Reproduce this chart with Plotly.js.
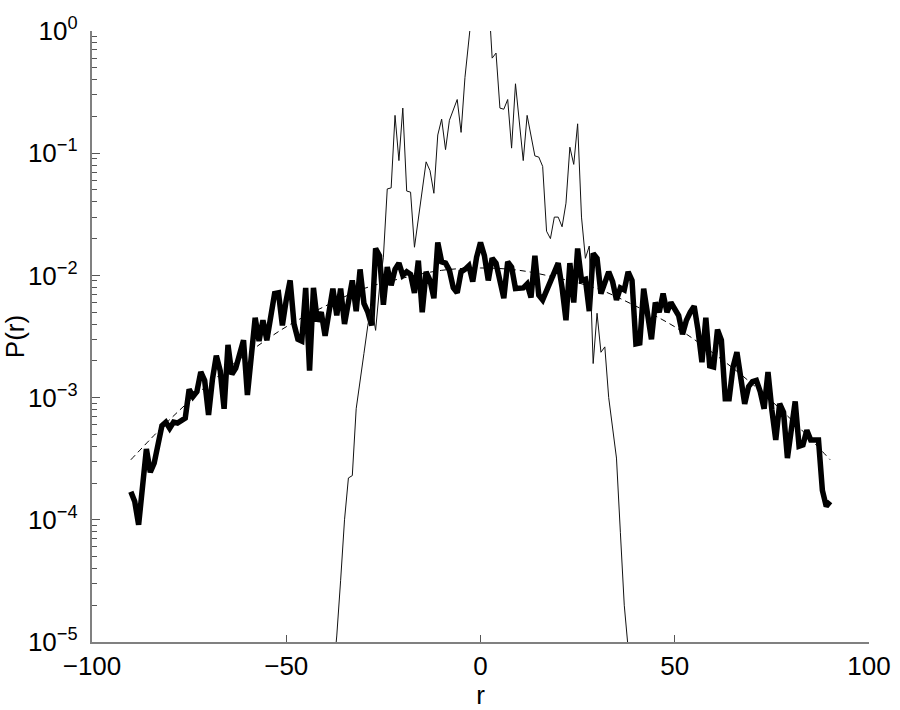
<!DOCTYPE html>
<html>
<head>
<meta charset="utf-8">
<script src="https://cdn.plot.ly/plotly-3.0.1.min.js"></script>
<style>
  html, body { margin: 0; padding: 0; background: #fff; }
  #chart { width: 900px; height: 710px; }
</style>
</head>
<body>
<div id="chart"></div>
<script>
// wide distribution (thick line)
const rWide = [-90, -89, -88, -86, -85, -84, -82, -81, -80, -79, -78, -77, -76, -75, -74, -73, -72, -71, -70,
    -69, -68, -67, -66, -65, -64, -63, -62, -61, -60, -59, -58, -57, -56, -55, -54, -53, -52, -51, -50,
    -49, -48, -47, -46, -45, -44, -43, -42, -41, -40, -39, -38, -37, -36, -35, -34, -33, -32, -31, -30,
    -29, -28, -27, -26, -25, -24, -23, -22, -21, -20, -19, -18, -17, -16, -15, -14, -13, -12, -11, -10,
    -9, -8, -7, -6, -5, -4, -3, -2, -1, 0, 1, 2, 3, 4, 5, 6, 7, 8, 9, 10,
    11, 12, 13, 14, 15, 16, 17, 18, 19, 20, 21, 22, 23, 24, 25, 26, 27, 28, 29, 30,
    31, 32, 33, 34, 35, 36, 37, 38, 39, 40, 41, 42, 43, 44, 45, 46, 47, 48, 49, 50,
    51, 52, 53, 54, 55, 56, 57, 58, 59, 60, 61, 62, 63, 64, 65, 66, 67, 68, 69, 70,
    71, 72, 73, 74, 75, 76, 77, 78, 79, 80, 81, 82, 83, 84, 85, 86, 87, 88, 89, 90];
const pWide = [1.7e-4, 1.41e-4, 9.1e-5, 3.8e-4, 2.45e-4, 2.9e-4, 5.9e-4, 6.3e-4, 5.6e-4, 6.3e-4, 6.2e-4, 6.6e-4, 6.8e-4, 1.17e-3, 1.02e-3, 1.12e-3, 1.62e-3, 1.38e-3, 7.2e-4,
    1.41e-3, 2.2e-3, 1.66e-3, 8.1e-4, 2.7e-3, 1.55e-3, 1.74e-3, 2.24e-3, 2.95e-3, 1.05e-3, 2.24e-3, 4.5e-3, 2.9e-3, 4.3e-3, 2.95e-3, 5.0e-3, 7.1e-3, 7.2e-3, 3.9e-3, 6.3e-3,
    9.1e-3, 4.0e-3, 3.0e-3, 2.9e-3, 7.9e-3, 1.66e-3, 7.9e-3, 4.2e-3, 5.0e-3, 3.2e-3, 5.0e-3, 7.8e-3, 4.7e-3, 7.8e-3, 4.0e-3, 6.0e-3, 9.1e-3, 5.1e-3, 1.12e-2, 5.9e-3,
    5.0e-3, 3.9e-3, 1.66e-2, 1.45e-2, 5.75e-3, 1.17e-2, 8.3e-3, 1.12e-2, 1.26e-2, 1.0e-2, 1.07e-2, 1.02e-2, 7.2e-3, 1.32e-2, 5.0e-3, 1.07e-2, 9.1e-3, 6.5e-3, 1.86e-2, 1.29e-2,
    1.26e-2, 1.1e-2, 7.9e-3, 7.2e-3, 1.07e-2, 1.12e-2, 1.2e-2, 8.9e-3, 1.41e-2, 1.86e-2, 1.45e-2, 9.1e-3, 1.38e-2, 1.26e-2, 8.9e-3, 6.5e-3, 1.29e-2, 1.17e-2, 7.8e-3, 7.8e-3,
    7.9e-3, 8.5e-3, 6.6e-3, 1.45e-2, 6.9e-3, 6.3e-3, 7.6e-3, 8.9e-3, 1.07e-2, 1.26e-2, 7.9e-3, 4.3e-3, 1.26e-2, 6.0e-3, 1.66e-2, 9.1e-3, 9.3e-3, 5.1e-3, 1.51e-2, 1.38e-2,
    7.1e-3, 8.9e-3, 1.07e-2, 8.9e-3, 6.3e-3, 7.9e-3, 7.6e-3, 1.07e-2, 9.1e-3, 2.75e-3, 2.8e-3, 7.8e-3, 4.5e-3, 3.0e-3, 6.0e-3, 5.0e-3, 7.1e-3, 5.0e-3, 6.0e-3, 5.2e-3,
    4.7e-3, 3.3e-3, 4.3e-3, 5.0e-3, 5.6e-3, 3.55e-3, 1.95e-3, 4.5e-3, 1.82e-3, 1.78e-3, 3.6e-3, 2.95e-3, 9.8e-4, 9.8e-4, 1.78e-3, 2.35e-3, 1.41e-3, 8.9e-4, 1.23e-3, 1.35e-3,
    1.38e-3, 1.12e-3, 8.1e-4, 1.62e-3, 7.9e-4, 4.5e-4, 8.9e-4, 7.6e-4, 3.2e-4, 5.6e-4, 9.3e-4, 4.0e-4, 4.1e-4, 5.4e-4, 4.5e-4, 4.5e-4, 4.5e-4, 1.74e-4, 1.29e-4, 1.41e-4];

// narrow distribution (thin line)
const rNarrow = [-38, -37, -36, -35, -34, -33, -32, -31, -30, -29, -28, -27, -26, -25, -24, -23, -22, -21, -20, -19, -18, -17,
    -14, -13, -12, -11, -10, -9, -8, -6, -5, -4, -3, -2, -1, 0, 1, 2, 3, 4, 5, 6, 7, 8, 9,
    11, 12, 14, 15, 16, 17, 18, 19, 20, 21, 22, 23, 24, 25, 26, 27, 28, 29, 30, 31, 32, 33, 34, 35, 36, 37, 38, 39];
const pNarrow = [5.0e-6, 1.12e-5, 3.2e-5, 1.0e-4, 2.2e-4, 2.3e-4, 8.1e-4, 1.32e-3, 2.3e-3, 3.9e-3, 5.6e-3, 3.55e-3, 7.9e-3, 1.41e-2, 5.1e-2, 5.2e-2, 0.204, 0.087, 0.234, 0.049, 0.048, 0.017,
    0.085, 0.072, 0.047, 0.141, 0.19, 0.107, 0.186, 0.275, 0.148, 0.417, 0.79, 1.7, 2.0, 1.0, 2.0, 2.1, 0.60, 0.66, 0.234, 0.229, 0.275, 0.11, 0.37,
    0.087, 0.204, 0.095, 0.093, 0.078, 0.023, 0.020, 0.030, 0.030, 0.025, 0.039, 0.112, 0.081, 0.174, 0.030, 0.0138, 0.0174, 1.9e-3, 4.9e-3, 2.35e-3, 2.6e-3, 1.0e-3, 5.5e-4, 3.2e-4, 7.9e-5, 2.0e-5, 8.9e-6, 4.0e-6];

// gaussian fit (dashed line)
const rFit = [-90, -80, -70, -60, -50, -40, -30, -20, -10, 0, 10, 20, 30, 40, 50, 60, 70, 80, 90];
const pFit = [3.1e-4, 6.6e-4, 1.29e-3, 2.3e-3, 3.8e-3, 5.6e-3, 7.8e-3, 9.5e-3, 1.1e-2, 1.15e-2,
    1.1e-2, 9.5e-3, 7.8e-3, 5.6e-3, 3.8e-3, 2.3e-3, 1.29e-3, 6.6e-4, 3.1e-4];

// axis ticks
const xTickVals = [-100, -50, 0, 50, 100];
const xTickText = ['\u2212100', '\u221250', '0', '50', '100'];
const yTickVals = [1e-5, 1e-4, 1e-3, 1e-2, 1e-1, 1];
const yTickText = ['10<sup>\u22125</sup>\u00a0', '10<sup>\u22124</sup>\u00a0', '10<sup>\u22123</sup>\u00a0',
    '10<sup>\u22122</sup>\u00a0', '10<sup>\u22121</sup>\u00a0', '10<sup>0</sup>\u00a0'];

// minor log ticks 2..9 in each decade
const yMinor = [];
for (let d = -5; d < 0; d++) {
    for (let m = 2; m <= 9; m++) yMinor.push(m * Math.pow(10, d));
}

const traces = [
    {
        x: rFit, y: pFit, mode: 'lines', type: 'scatter',
        line: {color: '#000', width: 1, dash: '6px,4px', shape: 'spline'}
    },
    {
        x: rWide, y: pWide, mode: 'lines', type: 'scatter',
        line: {color: '#000', width: 5.5, shape: 'linear'}
    },
    {
        x: rNarrow, y: pNarrow, mode: 'lines', type: 'scatter', yaxis: 'y2',
        line: {color: '#111', width: 1}
    }
];

const layout = {
    width: 900,
    height: 710,
    margin: {l: 92, r: 31, t: 31, b: 68},
    paper_bgcolor: '#fff',
    plot_bgcolor: '#fff',
    showlegend: false,
    font: {family: 'Liberation Sans, Arial, sans-serif', size: 26, color: '#000'},
    xaxis: {
        range: [-100, 100],
        tickmode: 'array',
        tickvals: xTickVals,
        ticktext: xTickText,
        ticks: 'inside',
        ticklen: 7,
        tickwidth: 1,
        tickcolor: '#555',
        showline: true,
        linecolor: '#808080',
        linewidth: 2,
        showgrid: false,
        zeroline: false,
        title: {text: 'r', standoff: 6, font: {size: 26}}
    },
    yaxis: {
        type: 'log',
        range: [-5, 0],
        tickmode: 'array',
        tickvals: yTickVals,
        ticktext: yTickText,
        ticks: 'inside',
        ticklen: 8,
        tickwidth: 1,
        tickcolor: '#555',
        showline: true,
        linecolor: '#808080',
        linewidth: 2,
        showgrid: false,
        zeroline: false,
        title: {text: 'P(r)', standoff: 4, font: {size: 26}}
    },
    // overlay axis carrying the minor log ticks
    yaxis2: {
        type: 'log',
        range: [-5, 0],
        overlaying: 'y',
        side: 'left',
        tickmode: 'array',
        tickvals: yMinor,
        showticklabels: false,
        ticks: 'inside',
        ticklen: 5,
        tickwidth: 1,
        tickcolor: '#555',
        showline: false,
        showgrid: false,
        zeroline: false
    }
};

Plotly.newPlot('chart', traces, layout, {displayModeBar: false});
</script>
</body>
</html>
